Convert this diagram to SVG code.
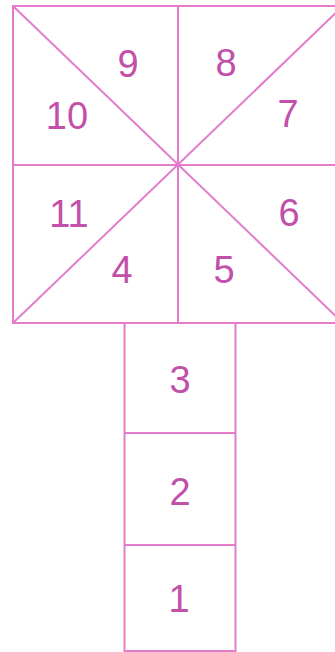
<svg xmlns="http://www.w3.org/2000/svg" width="335" height="652" viewBox="0 0 335 652">
<style>
.ln{stroke:#e47ccc;stroke-width:2;fill:none}
.num{font-family:"Liberation Sans",Arial,sans-serif;font-size:38px;fill:#c24fa9;text-anchor:middle}
</style>
<rect width="335" height="652" fill="#ffffff"/>
<g id="connectors">
<rect class="ln" x="13" y="6" width="330" height="317"/>
<line class="ln" x1="178" y1="6" x2="178" y2="323"/>
<line class="ln" x1="13" y1="165" x2="343" y2="165"/>
<line class="ln" x1="13" y1="6" x2="343" y2="323"/>
<line class="ln" x1="13" y1="323" x2="343" y2="6"/>
<rect class="ln" x="124.5" y="323" width="111" height="328"/>
<line class="ln" x1="124.5" y1="433" x2="235.5" y2="433"/>
<line class="ln" x1="124.5" y1="545" x2="235.5" y2="545"/>
</g>
<g id="n9"><text class="num" x="128" y="77">9</text></g>
<g id="n8"><text class="num" x="226" y="76">8</text></g>
<g id="n10"><text class="num" x="67" y="129">10</text></g>
<g id="n7"><text class="num" x="288" y="127">7</text></g>
<g id="n11"><text class="num" x="69" y="227">11</text></g>
<g id="n6"><text class="num" x="289" y="226">6</text></g>
<g id="n4"><text class="num" x="122" y="283">4</text></g>
<g id="n5"><text class="num" x="224" y="283">5</text></g>
<g id="n3"><text class="num" x="180" y="393">3</text></g>
<g id="n2"><text class="num" x="180" y="505">2</text></g>
<g id="n1"><text class="num" x="179" y="612">1</text></g>
</svg>
